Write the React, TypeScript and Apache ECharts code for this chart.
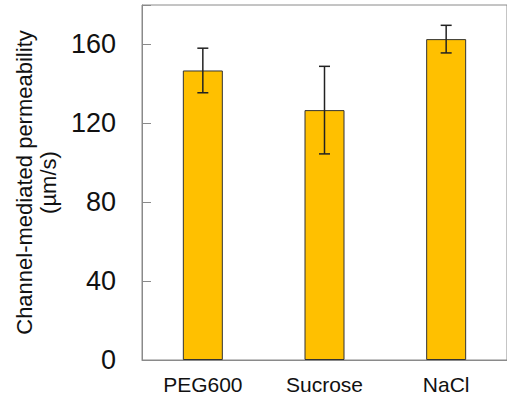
import React, { useEffect, useRef } from "react";
import * as echarts from "echarts";

const categories = ["PEG600", "Sucrose", "NaCl"];
const means = [146.8, 126.7, 162.7];
const errors = [11.3, 22.2, 7.0];
const yTicks = [0, 40, 80, 120, 160];

const FONT = "Arial, 'Liberation Sans', Helvetica, sans-serif";

export default function App() {
  const ref = useRef<HTMLDivElement>(null);

  useEffect(() => {
    if (!ref.current) return;
    const chart = echarts.init(ref.current, null, { renderer: "svg" });

    const errData = categories.map((_, i) => [i, means[i] - errors[i], means[i] + errors[i]]);

    chart.setOption({
      animation: false,
      backgroundColor: "#ffffff",
      grid: {
        left: 142,
        top: 5,
        right: -8,
        bottom: 42,
        show: true,
        borderColor: "#8a8a8a",
        borderWidth: 1,
        backgroundColor: "transparent",
      },
      xAxis: {
        type: "category",
        data: categories,
        axisLine: { show: true, lineStyle: { color: "#8a8a8a", width: 1 } },
        axisTick: { show: false },
        axisLabel: { color: "#111", fontSize: 21, fontFamily: FONT, margin: 14 },
      },
      yAxis: {
        type: "value",
        min: 0,
        max: 180,
        interval: 40,
        axisLine: { show: true, lineStyle: { color: "#8a8a8a", width: 1 } },
        axisTick: { show: true, inside: true, length: 9, lineStyle: { color: "#8a8a8a" } },
        splitLine: { show: false },
        axisLabel: {
          color: "#111",
          fontSize: 27,
          fontFamily: FONT,
          margin: 26,
          formatter: (v: number) => (yTicks.includes(v) ? String(v) : ""),
        },
        name: "Channel-mediated permeability\n(µm/s)",
        nameLocation: "middle",
        nameGap: 82,
        nameTextStyle: { color: "#111", fontSize: 22, fontFamily: FONT, lineHeight: 24 },
      },
      series: [
        {
          type: "bar",
          data: means,
          barWidth: 40,
          itemStyle: { color: "#FFC000", borderColor: "#333", borderWidth: 1 },
          z: 2,
        },
        {
          type: "custom",
          data: errData,
          z: 3,
          renderItem: (params: any, api: any) => {
            const idx = api.value(0);
            const lo = api.coord([idx, api.value(1)]);
            const hi = api.coord([idx, api.value(2)]);
            const half = 5.5;
            const style = { stroke: "#222", lineWidth: 1.5 };
            return {
              type: "group",
              children: [
                { type: "line", shape: { x1: hi[0], y1: hi[1], x2: lo[0], y2: lo[1] }, style },
                { type: "line", shape: { x1: hi[0] - half, y1: hi[1], x2: hi[0] + half, y2: hi[1] }, style },
                { type: "line", shape: { x1: lo[0] - half, y1: lo[1], x2: lo[0] + half, y2: lo[1] }, style },
              ],
            };
          },
        },
      ],
    });

    return () => chart.dispose();
  }, []);

  return (
    <div
      ref={ref}
      style={{ position: "fixed", left: 0, top: 0, width: 507, height: 402, background: "#fff" }}
    />
  );
}
